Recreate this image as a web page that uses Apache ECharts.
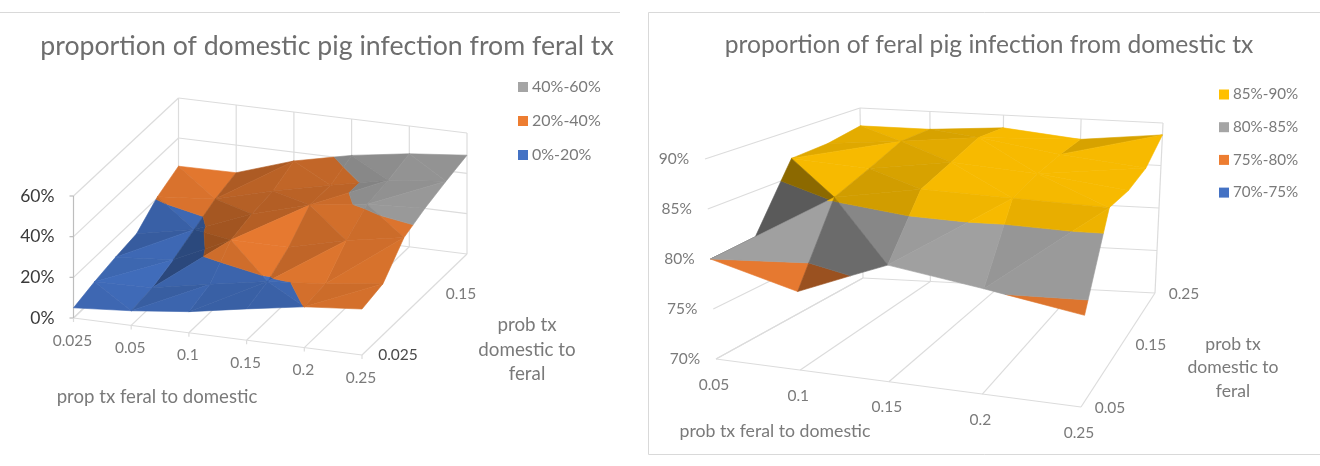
<!DOCTYPE html>
<html>
<head>
<meta charset="utf-8">
<style>html,body{margin:0;padding:0;background:#fff}#c{width:1320px;height:466px}</style>
<script src="https://cdn.jsdelivr.net/npm/echarts@6/dist/echarts.min.js"></script>
</head>
<body>
<div id="c"></div>
<script>
// Two Excel-style 3D surface charts of pig infection proportions.
const domesticXCats = ['0.025', '0.05', '0.1', '0.15', '0.2', '0.25'];
const domesticYCats = ['0.025', '0.05', '0.1', '0.15', '0.2', '0.25'];
const domesticZTicks = [0, 20, 40, 60];
const domesticBands = ['0%-20%', '20%-40%', '40%-60%'];
// rows run from the front (prob 0.025) to the back (prob 0.25); values in percent
const domesticZ = [
  [5.0, 7.2, 10.4, 15.4, 20.05, 22.6],
  [8.0, 8.7, 14.0, 19.0, 21.5, 25.2],
  [10.3, 12.6, 26.0, 26.0, 33.0, 38.0],
  [12.0, 17.8, 29.0, 37.0, 41.0, 42.6],
  [20.6, 23.0, 30.6, 37.0, 43.0, 46.0],
  [25.9, 26.2, 35.6, 41.9, 46.2, 49.0]
];

const feralXCats = ['0.05', '0.1', '0.15', '0.2', '0.25'];
const feralYCats = ['0.05', '0.1', '0.15', '0.2', '0.25'];
const feralZTicks = [70, 75, 80, 85, 90];
const feralBands = ['70%-75%', '75%-80%', '80%-85%', '85%-90%'];
const feralZ = [
  [80.0, 77.8, 81.5, 80.3, 78.9],
  [80.1, 85.3, 87.0, 87.0, 87.0],
  [87.0, 86.6, 88.0, 87.5, 86.5],
  [87.2, 88.0, 89.0, 87.7, 86.8],
  [87.9, 87.9, 88.5, 87.6, 88.6]
];

const domesticColors = ['#4472C4', '#ED7D31', '#A5A5A5'];
const feralColors = ['#4472C4', '#ED7D31', '#A5A5A5', '#FFC000'];

const FONT = 'Lato';
const GRID = '#dcdcdc';

// Box outline in screen space: floor corners and the matching corners at the top of the value axis.
const domesticBox = {
  floor: [[73.5, 318], [362, 355], [467, 254], [178.5, 218]],
  top: [[73.5, 196], [362, 233], [467, 133], [178.5, 98]],
  warp: [1, 1], relief: 0.27, sideDarken: 0.5,
  zRange: [0, 60], xCats: domesticXCats, yCats: domesticYCats, z: domesticZ,
  zTicks: domesticZTicks, bands: domesticBands, colors: domesticColors,
  bandEdges: [0, 20, 40, 60]
};
const feralBox = {
  floor: [[716, 359], [1081, 407], [1155, 293], [863, 278]],
  top: [[705, 159], [1089, 201], [1163, 123], [860, 108]],
  warp: [0.9, 1.23], relief: 0.8, sideDarken: 0,
  zRange: [70, 90], xCats: feralXCats, yCats: feralYCats, z: feralZ,
  zTicks: feralZTicks, bands: feralBands, colors: feralColors,
  bandEdges: [70, 75, 80, 85, 90]
};

function bilinear(q, s, t) {
  const top = [q[0][0] + (q[1][0] - q[0][0]) * s, q[0][1] + (q[1][1] - q[0][1]) * s];
  const back = [q[3][0] + (q[2][0] - q[3][0]) * s, q[3][1] + (q[2][1] - q[3][1]) * s];
  return [top[0] + (back[0] - top[0]) * t, top[1] + (back[1] - top[1]) * t];
}

function makeProjection(box) {
  const nx = box.xCats.length - 1, ny = box.yCats.length - 1;
  const foreshorten = (u, r) => r * u / (1 + (r - 1) * u);
  // maps category positions and a value to a screen point
  return (i, j, v) => {
    const s = foreshorten(i / nx, box.warp[0]), t = foreshorten(j / ny, box.warp[1]);
    const h = echarts.number.linearMap(v, box.zRange, [0, 1]);
    const f = bilinear(box.floor, s, t), u = bilinear(box.top, s, t);
    return [f[0] + (u[0] - f[0]) * h, f[1] + (u[1] - f[1]) * h];
  };
}

function clipBelow(poly, level, keepAbove) {
  const out = [];
  for (let k = 0; k < poly.length; k++) {
    const p = poly[k], q = poly[(k + 1) % poly.length];
    const pIn = keepAbove ? p[2] >= level : p[2] <= level;
    const qIn = keepAbove ? q[2] >= level : q[2] <= level;
    if (pIn) out.push(p);
    if (pIn !== qIn) {
      const r = (level - p[2]) / (q[2] - p[2]);
      out.push([p[0] + (q[0] - p[0]) * r, p[1] + (q[1] - p[1]) * r, level]);
    }
  }
  return out;
}

function shadeFactor(box, tri) {
  const nx = box.xCats.length - 1, ny = box.yCats.length - 1;
  const zs = box.relief / (box.zRange[1] - box.zRange[0]);
  const world = tri.map(p => [p[0] / nx, p[1] / ny, p[2] * zs]);
  const u = [0, 1, 2].map(k => world[1][k] - world[0][k]);
  const v = [0, 1, 2].map(k => world[2][k] - world[0][k]);
  let n = [u[1] * v[2] - u[2] * v[1], u[2] * v[0] - u[0] * v[2], u[0] * v[1] - u[1] * v[0]];
  if (n[2] < 0) n = n.map(c => -c);
  const len = Math.hypot(n[0], n[1], n[2]);
  n = n.map(c => c / len);
  const f = 0.14 + 0.53 * n[0] - 0.304 * n[1] + 0.8 * n[2] + box.sideDarken * Math.min(0, n[0]);
  return Math.max(0.45, Math.min(0.97, f));
}

function shadeColor(hex, f) {
  const c = [1, 3, 5].map(k => Math.round(parseInt(hex.substr(k, 2), 16) * f));
  return 'rgb(' + c.join(',') + ')';
}

// Splits every grid cell along its higher diagonal, then cuts each triangle at the band levels.
function buildFragments(box, project) {
  const tris = [];
  const rows = box.z;
  for (let j = 0; j < rows.length - 1; j++) {
    for (let i = 0; i < rows[j].length - 1; i++) {
      const a = [i, j, rows[j][i]], b = [i + 1, j, rows[j][i + 1]];
      const c = [i + 1, j + 1, rows[j + 1][i + 1]], d = [i, j + 1, rows[j + 1][i]];
      if (a[2] + c[2] >= b[2] + d[2]) tris.push([a, b, c], [a, c, d]);
      else tris.push([a, b, d], [b, c, d]);
    }
  }
  const floorY = p => project(p[0], p[1], box.zRange[0])[1];
  tris.sort((p, q) =>
    (floorY(p[0]) + floorY(p[1]) + floorY(p[2])) - (floorY(q[0]) + floorY(q[1]) + floorY(q[2])));
  const perBand = box.bands.map(() => []);
  tris.forEach((tri, rank) => {
    const f = shadeFactor(box, tri);
    box.bands.forEach((name, b) => {
      let poly = clipBelow(tri, box.bandEdges[b], true);
      if (poly.length) poly = clipBelow(poly, box.bandEdges[b + 1], false);
      if (poly.length >= 3) perBand[b].push({ poly, rank: rank + 10, f });
    });
  });
  return perBand;
}

function bandSeries(box, project) {
  const perBand = buildFragments(box, project);
  return box.bands.map((name, b) => ({
    type: 'custom', name, coordinateSystem: 'none', silent: true, animation: false, z: 3,
    itemStyle: { color: box.colors[b] },
    data: perBand[b].map((_, k) => [k]),
    renderItem: (params) => {
      const frag = perBand[b][params.dataIndex];
      const fill = shadeColor(box.colors[b], frag.f);
      return {
        type: 'polygon', z2: frag.rank,
        shape: { points: frag.poly.map(p => project(p[0], p[1], p[2])) },
        style: { fill, stroke: fill, lineWidth: 0.6 }
      };
    }
  }));
}

// Walls and floor of the box: back wall, left wall and the floor lines toward the back.
function gridSegments(box, project, withTicks) {
  const nx = box.xCats.length - 1, ny = box.yCats.length - 1;
  const [lo, hi] = box.zRange;
  const segs = [];
  box.zTicks.forEach(v => {
    segs.push([project(0, 0, v), project(0, ny, v), GRID]);
    segs.push([project(0, ny, v), project(nx, ny, v), GRID]);
  });
  for (let i = 0; i <= nx; i++) {
    segs.push([project(i, 0, lo), project(i, ny, lo), GRID]);
    segs.push([project(i, ny, lo), project(i, ny, hi), GRID]);
  }
  segs.push([project(0, 0, lo), project(nx, 0, lo), GRID]);
  if (withTicks) {
    segs.push([project(0, 0, lo), project(0, 0, hi), '#bdbdbd']);
    box.zTicks.forEach(v => {
      const p = project(0, 0, v);
      segs.push([[p[0] - 4, p[1]], p, '#bdbdbd']);
    });
    for (let i = 0; i <= nx; i++) {
      const p = project(i, 0, lo);
      segs.push([p, [p[0], p[1] + 4], GRID]);
    }
  }
  return segs;
}

function lineSeries(segs) {
  return {
    type: 'custom', coordinateSystem: 'none', silent: true, animation: false, z: 1,
    data: segs.map((_, k) => [k]),
    renderItem: (params) => {
      const s = segs[params.dataIndex];
      return {
        type: 'line',
        shape: { x1: s[0][0], y1: s[0][1], x2: s[1][0], y2: s[1][1] },
        style: { stroke: s[2], lineWidth: 1.2 }
      };
    }
  };
}

function textSeries(items) {
  return {
    type: 'custom', coordinateSystem: 'none', silent: true, animation: false, z: 6,
    data: items.map((_, k) => [k]),
    renderItem: (params) => {
      const t = items[params.dataIndex];
      return {
        type: 'text', x: t.x, y: t.y,
        style: {
          text: t.text, fill: t.color || '#7a7a7a', font: (t.size || 15.5) + 'px ' + FONT,
          align: t.align || 'center', verticalAlign: 'middle'
        }
      };
    }
  };
}

const projDomestic = makeProjection(domesticBox);
const projFeral = makeProjection(feralBox);

const domesticLabels = [];
domesticXCats.forEach((t, i) => {
  const p = projDomestic(i, 0, 0);
  domesticLabels.push({ text: t, x: p[0] - 1, y: p[1] + 22.5 });
});
domesticYCats.forEach((t, j) => {
  if (j % 3) return;
  const p = projDomestic(5, j, 0);
  domesticLabels.push({ text: t, x: p[0] + 36, y: p[1] - 0.5, color: j === 0 ? '#4a4a4a' : '#7a7a7a' });
});
domesticZTicks.forEach(v => {
  const p = projDomestic(0, 0, v);
  domesticLabels.push({ text: v + '%', x: p[0] - 19, y: p[1], align: 'right', color: '#3a3a3a', size: 17.5 });
});
domesticLabels.push({ text: 'prop tx feral to domestic', x: 157, y: 397, size: 18.6 });
['prob tx', 'domestic to', 'feral'].forEach((text, k) =>
  domesticLabels.push({ text, x: 527, y: 325 + k * 24.5, size: 18.8 }));

const feralLabels = [];
feralXCats.forEach((t, i) => {
  const p = projFeral(i, 0, 70);
  feralLabels.push({ text: t, x: p[0] - 2, y: p[1] + 25.5 });
});
feralYCats.forEach((t, j) => {
  if (j % 2) return;
  const p = projFeral(4, j, 70);
  feralLabels.push({ text: t, x: p[0] + 29, y: p[1] + 1 });
});
feralZTicks.forEach(v => {
  const p = projFeral(0, 0, v);
  feralLabels.push({ text: v + '%', x: p[0] - 31, y: p[1], size: 15.5 });
});
feralLabels.push({ text: 'prob tx feral to domestic', x: 775, y: 431, size: 17.7 });
['prob tx', 'domestic to', 'feral'].forEach((text, k) =>
  feralLabels.push({ text, x: 1233, y: 344 + k * 23.5, size: 17.6 }));

const legendBase = {
  orient: 'vertical', icon: 'rect', itemWidth: 10, itemHeight: 10, selectedMode: false,
  padding: 0, align: 'left'
};
const legendText = (size) => ({ fontFamily: FONT, fontSize: size, color: '#7a7a7a', padding: [0, 0, 0, -1] });

const option = {
  animation: false,
  backgroundColor: '#ffffff',
  title: [
    { text: 'proportion of domestic pig infection from feral tx', left: 327, top: 33, textAlign: 'center', padding: 0,
      textStyle: { fontFamily: FONT, fontSize: 26.7, fontWeight: 'normal', color: '#6e6e6e' } },
    { text: 'proportion of feral pig infection from domestic tx', left: 989, top: 33, textAlign: 'center', padding: 0,
      textStyle: { fontFamily: FONT, fontSize: 24.6, fontWeight: 'normal', color: '#6e6e6e' } }
  ],
  legend: [
    Object.assign({}, legendBase, { left: 518, top: 79, itemGap: 18, textStyle: legendText(16), data: domesticBands.slice().reverse() }),
    Object.assign({}, legendBase, { left: 1219, top: 87, itemGap: 17.7, textStyle: legendText(15.2), data: feralBands.slice().reverse() })
  ],
  graphic: [
    { type: 'line', shape: { x1: 0, y1: 12.5, x2: 620, y2: 12.5 }, style: { stroke: '#d9d9d9', lineWidth: 1 }, silent: true },
    { type: 'polyline', shape: { points: [[1320, 12.5], [648.5, 12.5], [648.5, 454.5], [1320, 454.5]] },
      style: { stroke: '#d9d9d9', lineWidth: 1, fill: 'none' }, silent: true }
  ],
  series: [
    lineSeries(gridSegments(domesticBox, projDomestic, true)),
    lineSeries(gridSegments(feralBox, projFeral, false)),
    ...bandSeries(domesticBox, projDomestic),
    ...bandSeries(feralBox, projFeral),
    textSeries(domesticLabels),
    textSeries(feralLabels)
  ]
};

const chart = echarts.init(document.getElementById('c'), null, { renderer: 'canvas' });
chart.setOption(option);
</script>
</body>
</html>
